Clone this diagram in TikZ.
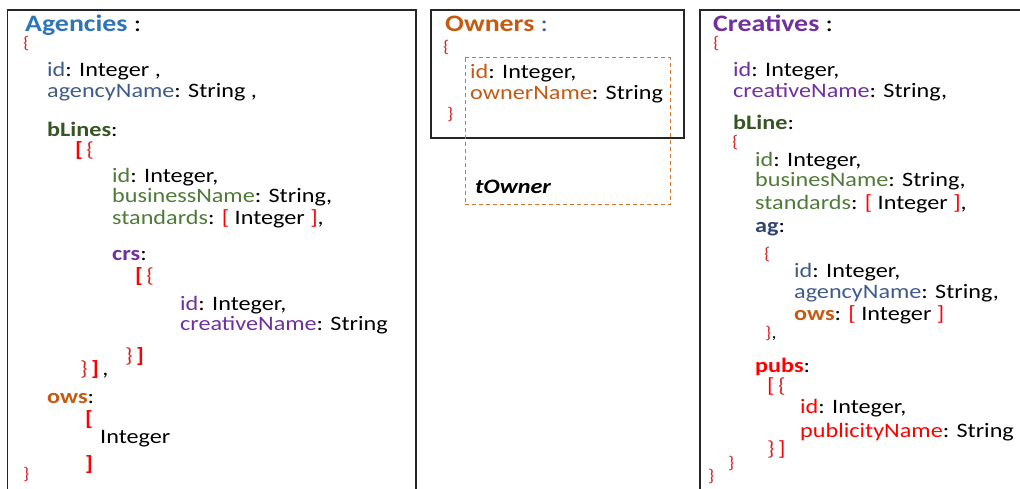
\documentclass[tikz,border=0pt]{standalone}
\usepackage{fontspec}
\setmainfont{Carlito}[FakeStretch=1.18]
\definecolor{tblue}{HTML}{2E75B6}
\definecolor{sblue}{HTML}{3F5B8A}
\definecolor{nblue}{HTML}{2F4470}
\definecolor{dgreen}{HTML}{375623}
\definecolor{mgreen}{HTML}{4F7A38}
\definecolor{purp}{HTML}{7030A0}
\definecolor{orng}{HTML}{C55A11}
\definecolor{dashor}{HTML}{D2782F}
\definecolor{brk}{HTML}{FF0000}
\definecolor{brc}{HTML}{D42A2A}
\definecolor{frame}{HTML}{262626}
\newcommand{\LB}{\textcolor{brc}{\{}}
\newcommand{\RB}{\textcolor{brc}{\}}}
\newcommand{\LS}{\textcolor{brk}{\textbf{[}}}
\newcommand{\RS}{\textcolor{brk}{\textbf{]}}}
\newcommand{\ls}{\textcolor{brk}{[}}
\newcommand{\rs}{\textcolor{brk}{]}}
\tikzset{
  txt/.style={anchor=base west, inner sep=0pt, font=\fontsize{20.5}{24}\selectfont},
  brace/.style={anchor=base west, inner sep=0pt, font=\fontsize{17}{20}\selectfont},
  ttl/.style={anchor=base west, inner sep=0pt, font=\fontsize{23.6}{27}\selectfont},
  boxline/.style={draw=frame, line width=1.2pt},
  dbox/.style={draw=dashor, line width=1pt, dash pattern=on 4pt off 3pt}
}
\begin{document}
\begin{tikzpicture}[x=1pt,y=-1pt]
\useasboundingbox (0,0) rectangle (1020,489);
\clip (0,0) rectangle (1020,489);
% frames
\draw[boxline] (7.5,500) -- (7.5,10) -- (416,10) -- (416,500);
\draw[boxline] (431,10) rectangle (684,138);
\draw[boxline] (700,500) -- (700,10) -- (1030,10);
\draw[dbox] (465,58) rectangle (670,205);
% Agencies
\node[ttl] (at) at (25,32) {\textbf{\textcolor{tblue}{Agencies}} :};
\node[brace] (a0) at (23,49) {\LB};
\node[txt] (a1) at (47,77) {\textcolor{sblue}{id}: Integer ,};
\node[txt] (a2) at (47,98) {\textcolor{sblue}{agencyName}: String ,};
\node[txt] (a3) at (47,137) {\textbf{\textcolor{dgreen}{bLines}}:};
\node[txt] (a4) at (75,157) {\LS\,\LB};
\node[txt] (a5) at (112,183) {\textcolor{mgreen}{id}: Integer,};
\node[txt] (a6) at (112,203) {\textcolor{mgreen}{businessName}: String,};
\node[txt] (a7) at (112,225) {\textcolor{mgreen}{standards}: \ls{} Integer \rs,};
\node[txt] (a8) at (112,261) {\textbf{\textcolor{purp}{crs}}:};
\node[txt] (a9) at (135,282) {\LS\,\LB};
\node[txt] (a10) at (180,310) {\textcolor{purp}{id}: Integer,};
\node[txt] (a11) at (180,330) {\textcolor{purp}{creativeName}: String};
\node[txt] (a12) at (125,362) {\RB\,\RS};
\node[txt] (a13) at (80,375) {\RB\,\RS\,,};
\node[txt] (a14) at (47,403) {\textbf{\textcolor{orng}{ows}}:};
\node[txt] (a15) at (85,425) {\LS};
\node[txt] (a16) at (100,443) {Integer};
\node[txt] (a17) at (85,470) {\RS};
\node[brace] (a18) at (23,479) {\RB};
% Owners
\node[ttl] (ot) at (445,32) {\textbf{\textcolor{orng}{Owners}} \textcolor{sblue}{:}};
\node[brace] (o0) at (443,53) {\LB};
\node[txt] (o1) at (470,79) {\textcolor{orng}{id}: Integer,};
\node[txt] (o2) at (470,100) {\textcolor{orng}{ownerName}: String};
\node[brace] (o3) at (447,120) {\RB};
\node[txt] (o4) at (475,194) {\textbf{\itshape tOwner}};
% Creatives
\node[ttl] (ct) at (713,32) {\textbf{\textcolor{purp}{Creatives}} :};
\node[brace] (c0) at (713,49) {\LB};
\node[txt] (c1) at (733,77) {\textcolor{purp}{id}: Integer,};
\node[txt] (c2) at (733,98) {\textcolor{purp}{creativeName}: String,};
\node[txt] (c3) at (733,130) {\textbf{\textcolor{dgreen}{bLine}}:};
\node[brace] (c4) at (732,148) {\LB};
\node[txt] (c5) at (755,167) {\textcolor{mgreen}{id}: Integer,};
\node[txt] (c6) at (755,187) {\textcolor{mgreen}{businesName}: String,};
\node[txt] (c7) at (755,210) {\textcolor{mgreen}{standards}: \ls{} Integer \rs,};
\node[txt] (c8) at (755,233) {\textbf{\textcolor{nblue}{ag}}:};
\node[brace] (c9) at (764,259) {\LB};
\node[txt] (c10) at (794,277) {\textcolor{sblue}{id}: Integer,};
\node[txt] (c11) at (794,298) {\textcolor{sblue}{agencyName}: String,};
\node[txt] (c12) at (794,320) {\textbf{\textcolor{orng}{ows}}: \ls{} Integer \rs};
\node[brace] (c13) at (765,338) {\RB,};
\node[txt] (c14) at (755,372) {\textbf{\textcolor{brk}{pubs}}:};
\node[txt] (c15) at (767,392) {\ls\,\LB};
\node[txt] (c16) at (800,413) {\textcolor{brk}{id}: Integer,};
\node[txt] (c17) at (800,437) {\textcolor{brk}{publicityName}: String};
\node[txt] (c18) at (767,455) {\RB\,\rs};
\node[brace] (c19) at (728,468) {\RB};
\node[brace] (c20) at (708,481) {\RB};
\end{tikzpicture}
\end{document}
